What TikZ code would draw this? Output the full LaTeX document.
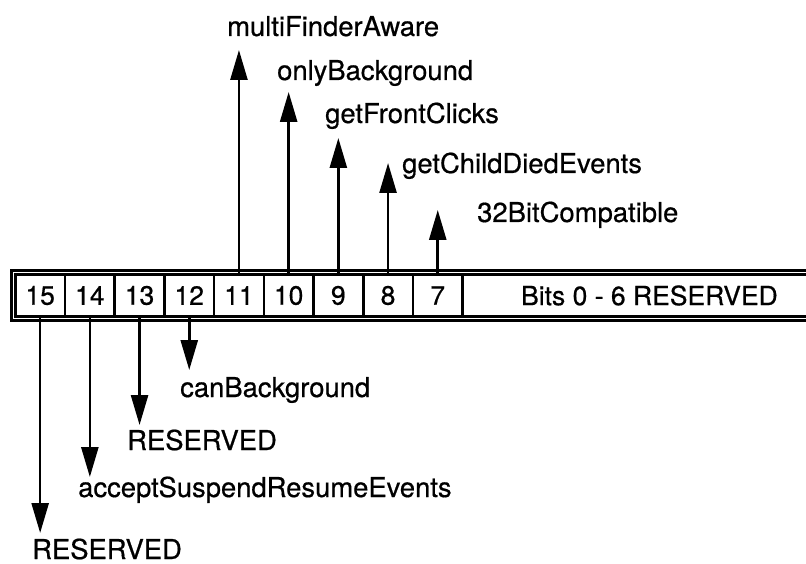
\documentclass[tikz,border=0pt]{standalone}
\usepackage{fontspec}
\setmainfont[FakeBold=0.6]{TeX Gyre Heros}
\usetikzlibrary{arrows.meta}
\begin{document}
\begin{tikzpicture}[x=1pt,y=-1pt,
  lbl/.style={anchor=base west,inner sep=0pt,font=\fontsize{27.4}{30}\selectfont},
  cell/.style={draw,line width=2.6pt,minimum width=49.7pt,minimum height=42pt,inner sep=0pt,anchor=west,font=\fontsize{26.5}{30}\selectfont},
  arr/.style={line width=2.6pt,-{Triangle[length=30pt,width=17pt]}},
  frame/.style={line width=3.6pt}]
\useasboundingbox (0,0) rectangle (806,564);
\begin{scope}
\clip (0,0) rectangle (806,564);
\draw[frame] (11.5,270.5) rectangle (845,320.5);
\foreach \b [count=\i from 0] in {15,14,13,12,11,10,9,8,7}
  \node[cell] (c\b) at ({14+49.7*\i},295.5) {\b};
\node[cell,minimum width=373.6pt] (rsv) at (461.3,295.5) {Bits 0 - 6 RESERVED};
\end{scope}
% label nodes
\node[lbl] (l11) at (227,36) {multiFinderAware};
\node[lbl] (l10) at (277,80) {onlyBackground};
\node[lbl] (l9) at (325,123) {getFrontClicks};
\node[lbl] (l8) at (402,173) {getChildDiedEvents};
\node[lbl] (l7) at (477,222) {32BitCompatible};
\node[lbl] (l12) at (180,397) {canBackground};
\node[lbl] (l13) at (127,450) {RESERVED};
\node[lbl] (l14) at (78,497) {acceptSuspendResumeEvents};
\node[lbl] (l15) at (32,559) {RESERVED};
% arrow tips
\coordinate (t11) at (c11.north |- 0,50);
\coordinate (t10) at (c10.north |- 0,92);
\coordinate (t9) at (c9.north |- 0,138);
\coordinate (t8) at (c8.north |- 0,163);
\coordinate (t7) at (c7.north |- 0,210);
\coordinate (t12) at (c12.south |- 0,370);
\coordinate (t13) at (c13.south |- 0,425);
\coordinate (t14) at (c14.south |- 0,477);
\coordinate (t15) at (c15.south |- 0,533);
\foreach \b in {11,10,9,8,7} \draw[arr] (c\b.north) -- (t\b);
\foreach \b in {12,13,14,15} \draw[arr] (c\b.south) -- (t\b);
\end{tikzpicture}
\end{document}
